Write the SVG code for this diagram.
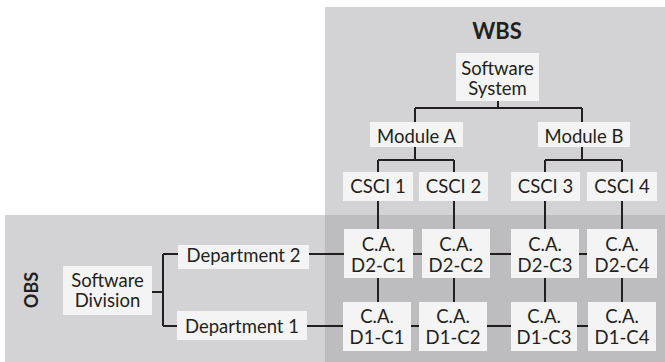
<svg xmlns="http://www.w3.org/2000/svg" width="665" height="362" viewBox="0 0 665 362">
<style>
.bg{fill:#d3d3d5}
.ov{fill:#bdbdbf}
.box{fill:#f4f4f4}
.t{font-family:Lato,"Liberation Sans",sans-serif;font-size:18.5px;fill:#231f20;text-anchor:middle}
.h{font-family:Lato,"Liberation Sans",sans-serif;font-weight:bold;fill:#231f20;text-anchor:middle}
.c{stroke:#231f20;stroke-width:2;fill:none}
</style>
<rect width="665" height="362" fill="#ffffff"/>
<rect class="bg" x="325" y="7" width="340" height="355"/>
<rect class="bg" x="5" y="215" width="660" height="147"/>
<rect class="ov" x="325" y="215" width="340" height="147"/>
<text class="h" x="497" y="39" font-size="22">WBS</text>
<text class="h" font-size="18" transform="translate(38,290) rotate(-90)">OBS</text>
<g id="connectors" class="c">
<path d="M498 101V108M415 108H582M415 108V122M582 108V122"/>
<path d="M415 147V160M378 160H454M378 160V172M454 160V172"/>
<path d="M582 147V160M545 160H622M545 160V172M622 160V172"/>
<path d="M378 201V229M454 201V229M545 201V229M622 201V229"/>
<path d="M378 277V302M454 277V302M545 277V302M622 277V302"/>
<path d="M152 292H163M163 254V326M163 254H178M163 326H177"/>
<path d="M308 254H587M307 326H588"/>
</g>
<g id="software-system"><rect class="box" x="456" y="53" width="83" height="48"/><text class="t" x="497.5" y="75">Software</text><text class="t" x="497.5" y="95">System</text></g>
<g id="module-a"><rect class="box" x="370" y="122" width="93" height="25"/><text class="t" x="416.5" y="143">Module A</text></g>
<g id="module-b"><rect class="box" x="538" y="122" width="92" height="25"/><text class="t" x="584" y="143">Module B</text></g>
<g id="csci-1"><rect class="box" x="343" y="172" width="70" height="29"/><text class="t" x="378" y="193">CSCI 1</text></g>
<g id="csci-2"><rect class="box" x="419" y="172" width="69" height="29"/><text class="t" x="453.5" y="193">CSCI 2</text></g>
<g id="csci-3"><rect class="box" x="511" y="172" width="69" height="29"/><text class="t" x="545.5" y="193">CSCI 3</text></g>
<g id="csci-4"><rect class="box" x="587" y="172" width="70" height="29"/><text class="t" x="622" y="193">CSCI 4</text></g>
<g id="ca-d2-c1"><rect class="box" x="344" y="229" width="69" height="49"/><text class="t" x="378.5" y="251">C.A.</text><text class="t" x="378.5" y="272">D2-C1</text></g>
<g id="ca-d2-c2"><rect class="box" x="422" y="229" width="68" height="49"/><text class="t" x="456" y="251">C.A.</text><text class="t" x="456" y="272">D2-C2</text></g>
<g id="ca-d2-c3"><rect class="box" x="511" y="229" width="68" height="49"/><text class="t" x="545" y="251">C.A.</text><text class="t" x="545" y="272">D2-C3</text></g>
<g id="ca-d2-c4"><rect class="box" x="587" y="229" width="70" height="49"/><text class="t" x="622" y="251">C.A.</text><text class="t" x="622" y="272">D2-C4</text></g>
<g id="ca-d1-c1"><rect class="box" x="343" y="302" width="68" height="49"/><text class="t" x="377" y="323">C.A.</text><text class="t" x="377" y="344">D1-C1</text></g>
<g id="ca-d1-c2"><rect class="box" x="419" y="302" width="68" height="49"/><text class="t" x="453" y="323">C.A.</text><text class="t" x="453" y="344">D1-C2</text></g>
<g id="ca-d1-c3"><rect class="box" x="511" y="302" width="66" height="49"/><text class="t" x="544" y="323">C.A.</text><text class="t" x="544" y="344">D1-C3</text></g>
<g id="ca-d1-c4"><rect class="box" x="588" y="302" width="68" height="49"/><text class="t" x="622" y="323">C.A.</text><text class="t" x="622" y="344">D1-C4</text></g>
<g id="software-division"><rect class="box" x="63" y="266" width="89" height="49"/><text class="t" x="107.5" y="287">Software</text><text class="t" x="107.5" y="307">Division</text></g>
<g id="department-2"><rect class="box" x="178" y="245" width="131" height="24"/><text class="t" x="243.5" y="262">Department 2</text></g>
<g id="department-1"><rect class="box" x="177" y="311" width="130" height="29"/><text class="t" x="242" y="333">Department 1</text></g>
</svg>
